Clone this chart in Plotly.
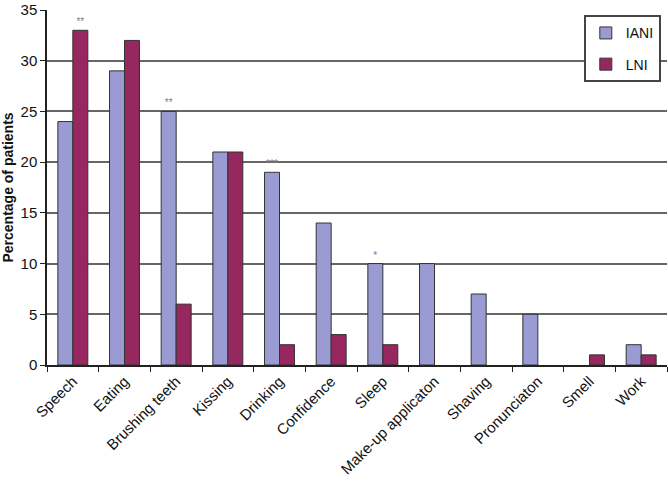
import plotly.graph_objects as go

categories = ["Speech", "Eating", "Brushing teeth", "Kissing", "Drinking", "Confidence",
              "Sleep", "Make-up applicaton", "Shaving", "Pronunciaton", "Smell", "Work"]
iani_values = [24, 29, 25, 21, 19, 14, 10, 10, 7, 5, 0, 2]
lni_values = [33, 32, 6, 21, 2, 3, 2, 0, 0, 0, 1, 1]
iani_sig = ["", "", "**", "", "***", "", "*", "", "", "", "", ""]
lni_sig = ["**", "", "", "", "", "", "", "", "", "", "", ""]
y_ticks = [0, 5, 10, 15, 20, 25, 30, 35]

# outline only drawn where a bar exists (zero-height bars are invisible in the original)
iani_outline = [1 if v > 0 else 0 for v in iani_values]
lni_outline = [1 if v > 0 else 0 for v in lni_values]

fig = go.Figure()
fig.add_trace(go.Bar(
    name="IANI", x=categories, y=iani_values, text=iani_sig,
    textposition="outside", textfont=dict(size=10, color="#808080"),
    marker=dict(color="#9B9BD4", line=dict(color="#333333", width=iani_outline)),
    legendgroup="a", cliponaxis=False,
))
fig.add_trace(go.Bar(
    name="LNI", x=categories, y=lni_values, text=lni_sig,
    textposition="outside", textfont=dict(size=10, color="#808080"),
    marker=dict(color="#96285F", line=dict(color="#333333", width=lni_outline)),
    legendgroup="b", cliponaxis=False,
))

fig.update_layout(
    width=668, height=497,
    margin=dict(l=45, r=1, t=8, b=132),
    paper_bgcolor="white", plot_bgcolor="white",
    barmode="group", bargap=0.42, bargroupgap=0,
    font=dict(family="Liberation Sans, Arial, sans-serif", color="#111111"),
    showlegend=True,
    legend=dict(
        x=0.99, xanchor="right", y=0.985, yanchor="top",
        bgcolor="white", bordercolor="#444444", borderwidth=2,
        font=dict(size=14, family="Liberation Sans Narrow, Liberation Sans, Arial"),
        itemwidth=30, tracegroupgap=10,
    ),
    uniformtext=dict(minsize=8, mode="show"),
)
fig.update_xaxes(
    type="category", tickangle=-45, tickson="boundaries",
    ticks="outside", ticklen=5, tickcolor="#222222",
    showline=True, linecolor="#222222", linewidth=1.5,
    tickfont=dict(size=15, family="Liberation Sans, Arial"),
    showgrid=False,
)
fig.update_yaxes(
    range=[0, 35], tickvals=y_ticks, ticklabeloverflow="allow",
    ticks="outside", ticklen=5, tickcolor="#222222",
    showline=True, linecolor="#222222", linewidth=1.5,
    showgrid=True, gridcolor="#666666", gridwidth=2,
    tickfont=dict(size=15, family="Liberation Sans Narrow, Liberation Sans, Arial"),
    title=dict(text="<b>Percentage of patients</b>", font=dict(size=14, family="Liberation Sans, Arial"), standoff=10),
    zeroline=False,
)

fig.write_html("out.html", config={"displayModeBar": False},
               post_script="document.body.style.margin='0';")
